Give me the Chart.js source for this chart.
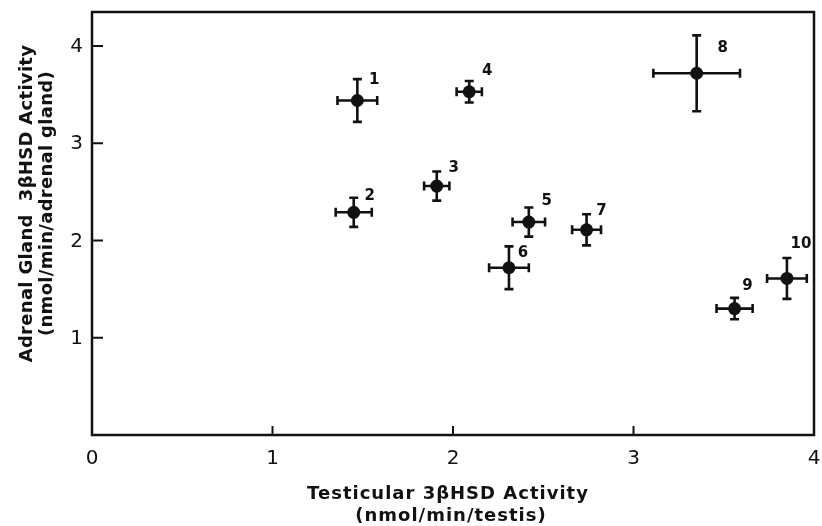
<!DOCTYPE html>
<html>
<head>
<meta charset="utf-8">
<script src="https://cdn.jsdelivr.net/npm/chart.js@4/dist/chart.umd.min.js"></script>
<style>
  html, body { margin: 0; padding: 0; background: #fff; }
  #wrap { width: 822px; height: 526px; }
</style>
</head>
<body>
<div id="wrap"><canvas id="chart" width="822" height="526"></canvas></div>
<script>
// Group numbers shown next to each point
const groupLabels = ['1', '2', '3', '4', '5', '6', '7', '8', '9', '10'];

// Testicular 3bHSD activity (nmol/min/testis), mean and error
const testicular = [1.47, 1.45, 1.91, 2.09, 2.42, 2.31, 2.74, 3.35, 3.56, 3.85];
const testicularErr = [0.11, 0.10, 0.07, 0.07, 0.09, 0.11, 0.08, 0.24, 0.10, 0.11];

// Adrenal gland 3bHSD activity (nmol/min/adrenal gland), mean and error
const adrenal = [3.44, 2.29, 2.56, 3.53, 2.19, 1.72, 2.11, 3.72, 1.30, 1.61];
const adrenalErr = [0.22, 0.15, 0.15, 0.11, 0.15, 0.22, 0.16, 0.39, 0.11, 0.21];

// Axis ticks
const xTicks = [0, 1, 2, 3, 4];
const yTicks = [1, 2, 3, 4];

// label nudges (px) for the group numbers
const labelNudge = [[17, -20], [16, -16], [17, -18], [18, -21], [18, -21],
                    [14, -15], [15, -19], [26, -25], [13, -22], [14, -34]];

const FONT = '"DejaVu Sans", sans-serif';
const INK = '#111';

const points = testicular.map((x, i) => ({ x: x, y: adrenal[i] }));

// Error bars, frame, inward ticks, tick labels, point numbers and axis titles
const figurePlugin = {
  id: 'figure',
  beforeDatasetsDraw(chart) {
    const { ctx, scales: { x, y } } = chart;
    ctx.save();
    ctx.strokeStyle = INK;
    ctx.lineWidth = 2.6;
    const cap = 4.5;
    testicular.forEach((tv, i) => {
      const px = x.getPixelForValue(tv);
      const py = y.getPixelForValue(adrenal[i]);
      const x0 = x.getPixelForValue(tv - testicularErr[i]);
      const x1 = x.getPixelForValue(tv + testicularErr[i]);
      const y0 = y.getPixelForValue(adrenal[i] - adrenalErr[i]);
      const y1 = y.getPixelForValue(adrenal[i] + adrenalErr[i]);
      ctx.beginPath();
      ctx.moveTo(x0, py); ctx.lineTo(x1, py);
      ctx.moveTo(x0, py - cap); ctx.lineTo(x0, py + cap);
      ctx.moveTo(x1, py - cap); ctx.lineTo(x1, py + cap);
      ctx.moveTo(px, y0); ctx.lineTo(px, y1);
      ctx.moveTo(px - cap, y0); ctx.lineTo(px + cap, y0);
      ctx.moveTo(px - cap, y1); ctx.lineTo(px + cap, y1);
      ctx.stroke();
    });
    ctx.restore();
  },
  afterDraw(chart) {
    const { ctx, chartArea: a, scales: { x, y } } = chart;
    ctx.save();
    ctx.strokeStyle = INK;
    ctx.fillStyle = INK;

    // frame
    ctx.lineWidth = 2.5;
    ctx.strokeRect(a.left, a.top, a.right - a.left, a.bottom - a.top);

    // inward tick marks
    ctx.lineWidth = 2;
    ctx.beginPath();
    yTicks.forEach(v => {
      const py = y.getPixelForValue(v);
      ctx.moveTo(a.left, py); ctx.lineTo(a.left + 11, py);
    });
    xTicks.slice(1, -1).forEach(v => {
      const px = x.getPixelForValue(v);
      ctx.moveTo(px, a.bottom); ctx.lineTo(px, a.bottom - 9);
    });
    ctx.stroke();

    // tick labels
    ctx.font = '20px ' + FONT;
    ctx.textAlign = 'center';
    ctx.textBaseline = 'middle';
    xTicks.forEach(v => {
      ctx.fillText(String(v), x.getPixelForValue(v), a.bottom + 24);
    });
    ctx.textAlign = 'right';
    yTicks.forEach(v => {
      ctx.fillText(String(v), a.left - 9, y.getPixelForValue(v) + 1);
    });

    // group numbers
    ctx.font = 'bold 15px ' + FONT;
    ctx.textAlign = 'center';
    groupLabels.forEach((lab, i) => {
      const px = x.getPixelForValue(testicular[i]);
      const py = y.getPixelForValue(adrenal[i]);
      ctx.fillText(lab, px + labelNudge[i][0], py + labelNudge[i][1]);
    });

    // axis titles
    ctx.font = 'bold 18px ' + FONT;
    ctx.letterSpacing = '1px';
    const cx = (a.left + a.right) / 2;
    ctx.fillText('Testicular 3\u03B2HSD Activity', cx - 5, 494);
    ctx.fillText('(nmol/min/testis)', cx - 2, 516);

    const cy = (a.top + a.bottom) / 2 - 20;
    ctx.letterSpacing = '0.3px';
    ctx.save();
    ctx.translate(27, cy);
    ctx.rotate(-Math.PI / 2);
    ctx.fillText('Adrenal Gland  3\u03B2HSD Activity', 0, 0);
    ctx.restore();
    ctx.save();
    ctx.translate(47, cy);
    ctx.rotate(-Math.PI / 2);
    ctx.fillText('(nmol/min/adrenal gland)', 0, 0);
    ctx.restore();

    ctx.restore();
  }
};

new Chart(document.getElementById('chart'), {
  type: 'scatter',
  data: {
    datasets: [{
      data: points,
      backgroundColor: INK,
      borderColor: INK,
      pointRadius: 6.5,
      pointHoverRadius: 6.5,
      borderWidth: 0
    }]
  },
  options: {
    responsive: false,
    animation: false,
    events: [],
    layout: { padding: { left: 0, top: 12, right: 8, bottom: 0 } },
    plugins: { legend: { display: false }, tooltip: { enabled: false } },
    scales: {
      x: {
        type: 'linear',
        min: 0,
        max: 4,
        grid: { display: false, drawTicks: false },
        border: { display: false },
        afterBuildTicks: s => { s.ticks = xTicks.map(v => ({ value: v })); },
        afterFit: s => { s.height = 91; },
        ticks: { display: false }
      },
      y: {
        type: 'linear',
        min: 0,
        max: 4.35,
        grid: { display: false, drawTicks: false },
        border: { display: false },
        afterBuildTicks: s => { s.ticks = yTicks.map(v => ({ value: v })); },
        afterFit: s => { s.width = 92; },
        ticks: { display: false }
      }
    }
  },
  plugins: [figurePlugin]
});
</script>
</body>
</html>
